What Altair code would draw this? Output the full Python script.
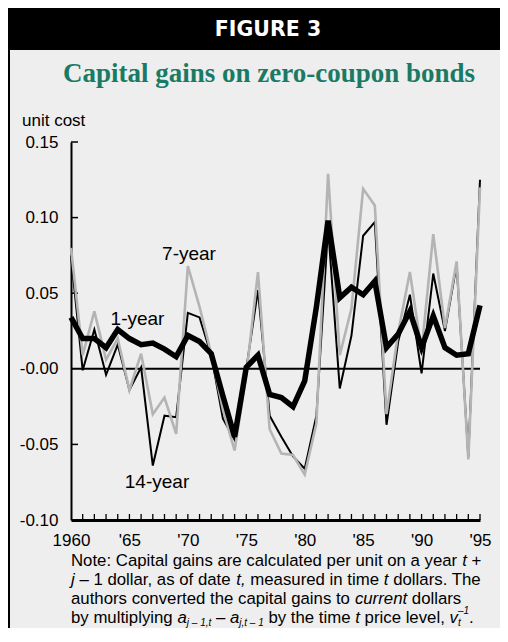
import altair as alt
import pandas as pd

# ---------------- data ----------------
years = list(range(1960, 1996))

one_year = [0.034, 0.020, 0.020, 0.014, 0.026, 0.020, 0.016, 0.017, 0.013, 0.008,
            0.022, 0.018, 0.010, -0.018, -0.045, 0.001, 0.009, -0.017, -0.019, -0.025,
            -0.008, 0.041, 0.098, 0.047, 0.054, 0.049, 0.058, 0.014, 0.023, 0.038,
            0.014, 0.035, 0.014, 0.009, 0.010, 0.042]

seven_year = [0.080, 0.009, 0.038, 0.006, 0.020, -0.014, 0.010, -0.030, -0.019, -0.043,
              0.068, 0.041, 0.010, -0.027, -0.054, -0.004, 0.064, -0.040, -0.056, -0.057,
              -0.070, -0.036, 0.129, 0.009, 0.040, 0.119, 0.108, -0.030, 0.024, 0.064,
              0.012, 0.089, 0.027, 0.071, -0.060, 0.120]

fourteen_year = [0.075, -0.001, 0.026, -0.004, 0.016, -0.014, 0.001, -0.064, -0.031, -0.032,
                 0.037, 0.034, 0.009, -0.033, -0.047, 0.000, 0.052, -0.031, -0.045, -0.058,
                 -0.066, -0.031, 0.093, -0.013, 0.022, 0.088, 0.097, -0.037, 0.018, 0.049,
                 -0.003, 0.063, 0.025, 0.069, -0.058, 0.125]

x_label_years = [1960, 1965, 1970, 1975, 1980, 1985, 1990, 1995]
y_tick_values = [-0.10, -0.05, 0.0, 0.05, 0.10, 0.15]
y_inner_ticks = [0.15, 0.10, 0.05, -0.05]
minor_tick_years = years[1:]

header_text = "FIGURE 3"
title_text = "Capital gains on zero-coupon bonds"
y_unit_text = "unit cost"
series_labels = ["1-year", "7-year", "14-year"]

note_lines = [
    [("Note: Capital gains are calculated per unit on a year ", "n"), ("t", "i"), (" +", "n")],
    [("j", "i"), (" \u2013 1 dollar, as of date ", "n"), ("t,", "i"), (" measured in time ", "n"),
     ("t", "i"), (" dollars. The", "n")],
    [("authors converted the capital gains to ", "n"), ("current", "i"), (" dollars", "n")],
    [("by multiplying ", "n"), ("a", "i"), ("j \u2013 1,t", "sub"), (" \u2013 ", "n"), ("a", "i"),
     ("j,t \u2013 1", "sub"), (" by the time ", "n"), ("t", "i"), (" price level, ", "n"),
     ("v", "i"), ("t", "subx"), ("\u20131", "sup"), (".", "n")],
]

# ---------------- layout ----------------
W, H = 409, 378
PAD_L, PAD_T, PAD_R, PAD_B = 63, 134, 20, 108
FONT = "Liberation Sans"
NOTE_SIZE = 16.8

df = pd.DataFrame({"year": years, "one": one_year, "seven": seven_year, "fourteen": fourteen_year})

xs = alt.Scale(domain=[1960, 1995], nice=False, zero=False)
ys = alt.Scale(domain=[-0.10, 0.15], nice=False, zero=False)

x_axis = alt.Axis(values=x_label_years, title=None, ticks=False, tickSize=0, grid=False,
                  domainColor="black", domainWidth=3, labelFont=FONT, labelFontSize=17,
                  labelColor="black", labelPadding=12, labelFlush=False,
                  labelExpr="datum.value == 1960 ? '1960' : \"'\" + substring(toString(datum.value), 2, 4)")
y_axis = alt.Axis(values=y_tick_values, title=None, ticks=False, tickSize=0, grid=False,
                  domainColor="black", domainWidth=2, labelFont=FONT, labelFontSize=17,
                  labelColor="black", labelPadding=13,
                  labelExpr="datum.value < -0.001 ? '-' + format(-datum.value, '.2f') : "
                            "(datum.value < 0.001 ? '-0.00' : format(datum.value, '.2f'))")

X = alt.X("year:Q", scale=xs, axis=x_axis)


def Y(field):
    return alt.Y(f"{field}:Q", scale=ys, axis=y_axis)


base = alt.Chart(df)
line14 = base.mark_line(color="black", strokeWidth=2).encode(x=X, y=Y("fourteen"))
line7 = base.mark_line(color="#b4b4b4", strokeWidth=2.6).encode(x=X, y=Y("seven"))
line1 = base.mark_line(color="black", strokeWidth=5.5, strokeJoin="miter").encode(x=X, y=Y("one"))

zero_line = alt.Chart(pd.DataFrame({"one": [0.0]})).mark_rule(color="black", strokeWidth=2).encode(y=Y("one"))

x_ticks = alt.Chart(pd.DataFrame({"year": minor_tick_years})).mark_rule(
    color="black", strokeWidth=1.3).encode(x=X, y=alt.value(H - 6), y2=alt.value(H))
y_ticks = alt.Chart(pd.DataFrame({"one": y_inner_ticks})).mark_rule(
    color="black", strokeWidth=1.5).encode(y=Y("one"), x=alt.value(0), x2=alt.value(7))


def txt(s, x, y, size=17, style="normal", weight="normal", font=FONT, color="black", align="left"):
    return alt.Chart(pd.DataFrame({"t": [s]})).mark_text(
        align=align, baseline="alphabetic", font=font, fontSize=size, fontStyle=style,
        fontWeight=weight, color=color).encode(text="t:N", x=alt.value(x), y=alt.value(y))


# Arial / Liberation Sans advance widths (per 1000 em)
AW = {" ": 278, ":": 278, ",": 278, ".": 278, "+": 584, "\u2013": 556, "1": 556,
      "a": 556, "b": 556, "c": 500, "d": 556, "e": 556, "f": 278, "g": 556, "h": 556,
      "i": 222, "j": 222, "k": 500, "l": 222, "m": 833, "n": 556, "o": 556, "p": 556,
      "q": 556, "r": 333, "s": 500, "t": 278, "u": 556, "v": 500, "w": 722, "x": 500,
      "y": 500, "z": 500, "C": 722, "N": 722, "T": 611}


def tw(s, size):
    return sum(AW.get(c, 556) for c in s) * size / 1000.0


def note_layers():
    layers = []
    y0 = 424.2
    for li, segs in enumerate(note_lines):
        y = y0 + li * 19.0
        cx = 0.0
        for s, kind in segs:
            size = NOTE_SIZE if kind in ("n", "i") else 10
            lead = len(s) - len(s.lstrip(" "))
            body = s.strip(" ")
            xx = cx + tw(" " * lead, size)
            dy = 0
            if kind in ("sub", "subx"):
                dy = 2.3
            elif kind == "sup":
                dy = -9.5
            style = "normal" if kind == "n" else "italic"
            if body:
                layers.append(txt(body, round(xx, 1), round(y + dy, 1), size=size, style=style))
            if kind != "subx":
                cx += tw(s, size)
    return layers


band = alt.Chart(pd.DataFrame({"k": [0]})).mark_rect(color="black").encode(
    x=alt.value(-PAD_L), x2=alt.value(W + PAD_R), y=alt.value(-PAD_T), y2=alt.value(-92))
border = alt.Chart(pd.DataFrame({"k": [0]})).mark_rule(color="black", strokeWidth=2).encode(
    x=alt.value(-PAD_L + 1), y=alt.value(-92), y2=alt.value(H + PAD_B))

annotations = [
    band, border,
    txt(header_text, 197, -106, size=20.5, weight="bold", font="DejaVu Sans", color="white", align="center"),
    txt(title_text, 198, -60, size=27, weight="bold", font="Liberation Serif", color="#1a7a63", align="center"),
    txt(y_unit_text, -49, -16.5, size=17),
    txt(series_labels[1], 118, 118, size=19, align="center"),
    txt(series_labels[0], 66.5, 183, size=19, align="center"),
    txt(series_labels[2], 86, 346, size=19, align="center"),
] + note_layers()

chart = alt.layer(
    zero_line, x_ticks, y_ticks, line14, line7, line1, *annotations
).properties(
    width=W, height=H,
    padding={"left": PAD_L, "top": PAD_T, "right": PAD_R, "bottom": PAD_B},
    autosize=alt.AutoSizeParams(type="none"),
    background="#eeeeee",
).configure_view(stroke=None)

chart.save("out.html", embed_options={"renderer": "svg", "actions": False})
